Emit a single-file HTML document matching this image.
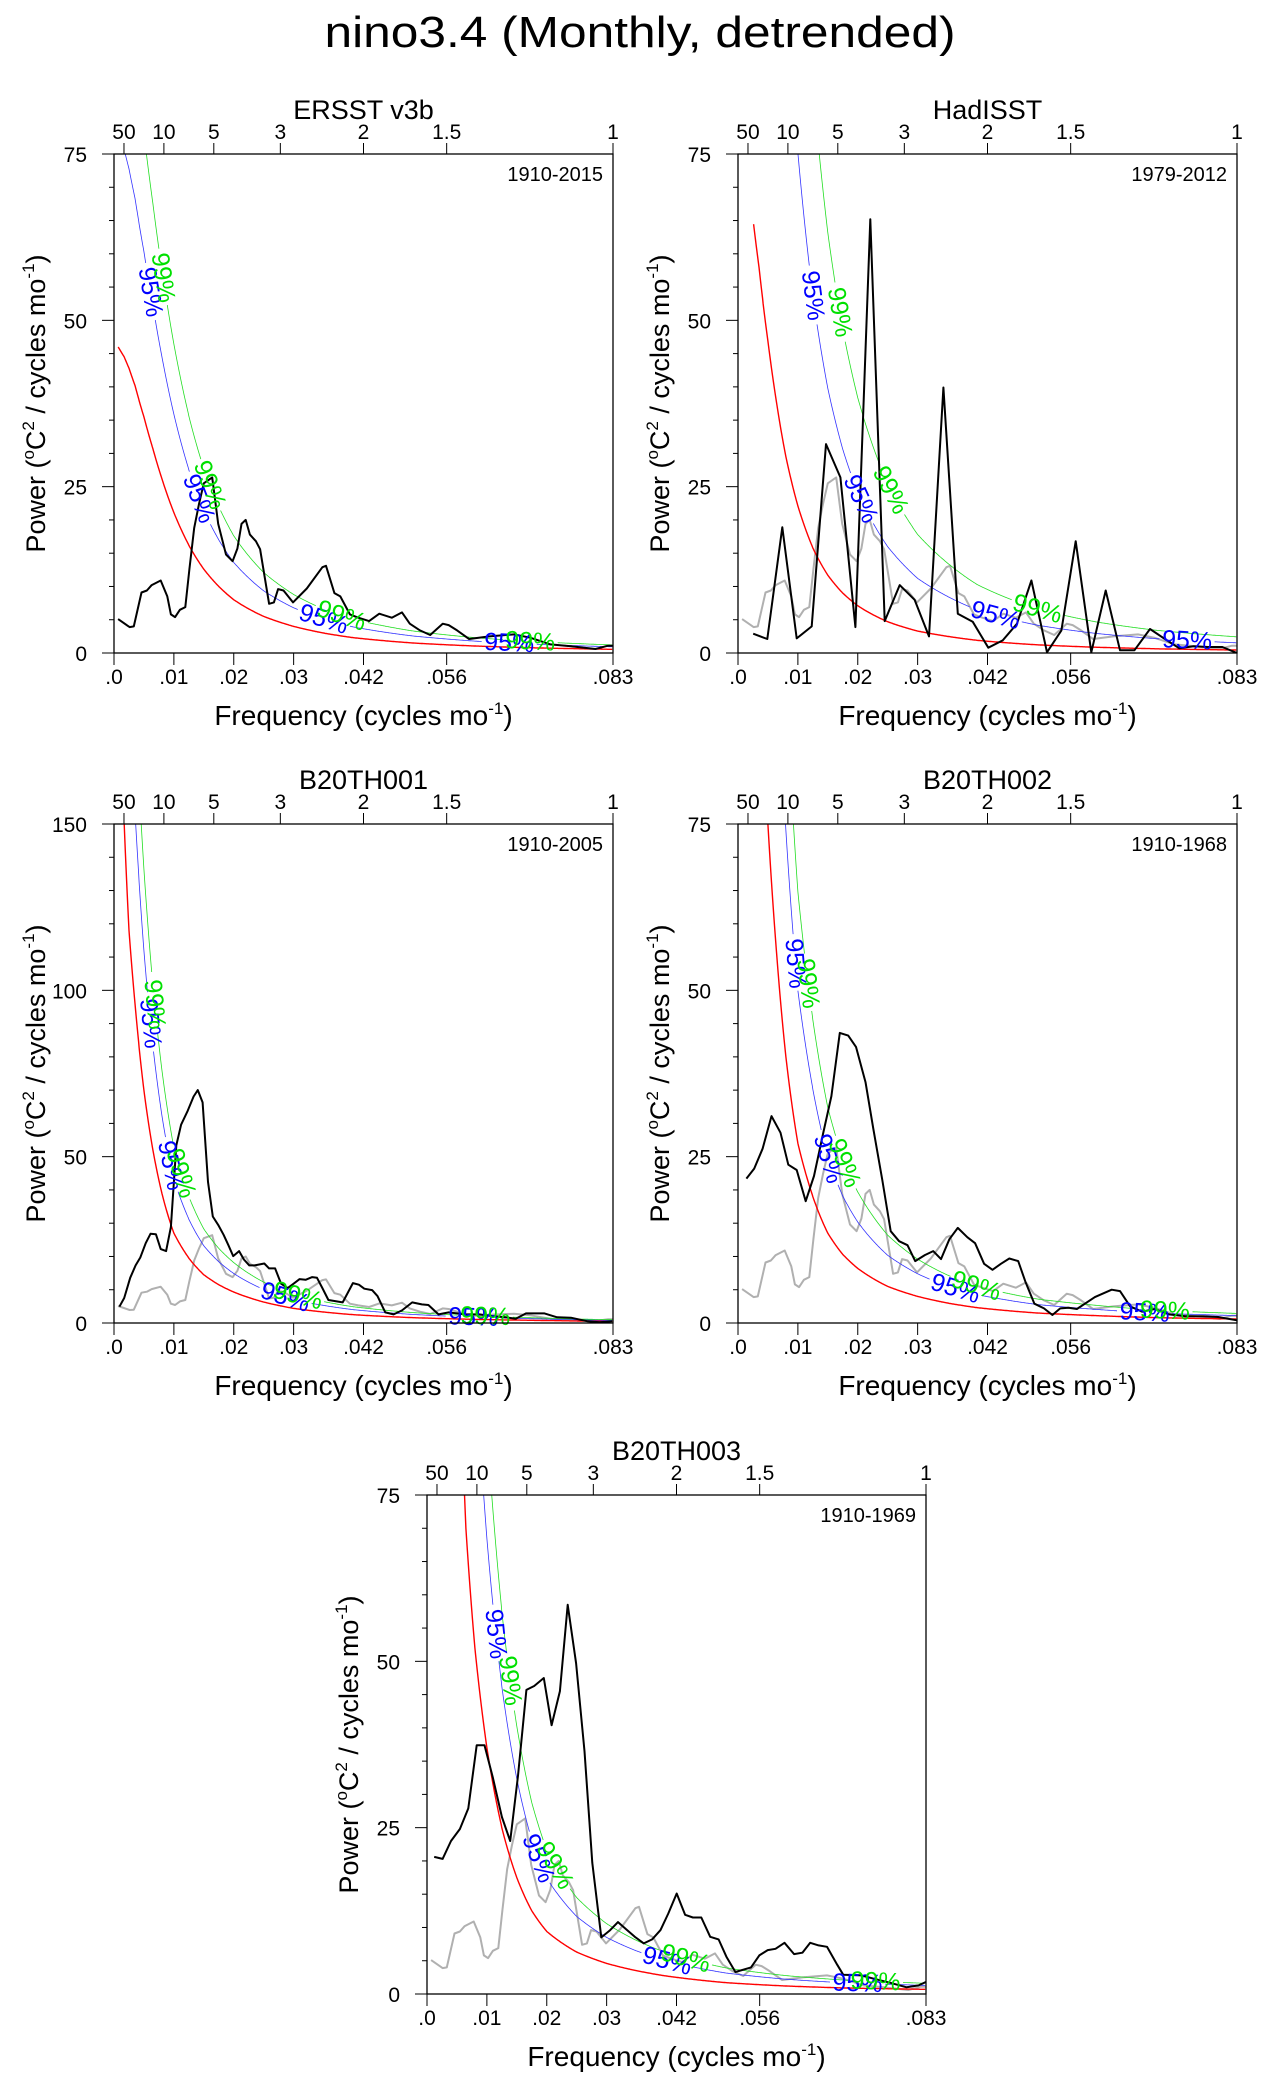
<!DOCTYPE html>
<html><head><meta charset="utf-8"><title>nino3.4 spectra</title>
<style>
html,body{margin:0;padding:0;background:#fff;}
svg{display:block;font-family:"Liberation Sans",Arial,sans-serif;}
</style></head>
<body>
<svg id="fig" width="1264" height="2081" viewBox="0 0 1264 2081" xmlns="http://www.w3.org/2000/svg">
<rect width="1264" height="2081" fill="#fff"/>
<text x="640" y="47" font-size="44" text-anchor="middle" textLength="631" lengthAdjust="spacingAndGlyphs">nino3.4 (Monthly, detrended)</text>
</svg>
<script>
// ---------- data ----------
const panelTitles = ["ERSST v3b","HadISST","B20TH001","B20TH002","B20TH003"];
const panelYears = ["1910-2015","1979-2012","1910-2005","1910-1968","1910-1969"];
const yMaxes = [75,75,150,75,75];
const yMajor = [25,25,50,25,25];
const yMinor = [5,5,10,5,5];
const xTickValues = [0,0.01,0.02,0.03,1/24,1/18,1/12];
const xTickLabels = [".0",".01",".02",".03",".042",".056",".083"];
const periodTicks = [50,10,5,3,2,1.5,1];
const periodLabels = ["50","10","5","3","2","1.5","1"];

// ERSST v3b spectrum (also grey reference in other panels)
const ersstFreq = [.00068,.0026,.0033,.0046,.0055,.0063,.0078,.0089,.0095,.0102,.0110,.0119,.0126,.0134,.0142,.0150,.0164,.0174,.0187,.0198,.0206,.0213,.0220,.0227,.0237,.0244,.0259,.0267,.0274,.0283,.0299,.0322,.0348,.0354,.0368,.0378,.0394,.0408,.0426,.0443,.0464,.0481,.0494,.0511,.0528,.0549,.0559,.0573,.0593,.0627,.0668,.0695,.0729,.0763,.0804,.0825,.0833];
const ersstPower = [5.1,3.9,4.0,9.1,9.4,10.2,10.9,8.5,5.8,5.4,6.5,6.9,12.6,18.8,22.4,25.5,26.4,19.4,14.8,13.8,15.7,19.4,20,17.8,16.8,15.6,7.4,7.6,9.6,9.4,7.6,9.7,12.9,13.1,9.0,8.5,5.8,5.3,4.8,5.9,5.3,6.1,4.4,3.4,2.7,4.4,4.2,3.4,2.1,2.5,2.8,2.3,1.3,1.0,0.6,1.1,1.1];

const hadFreq = [.00254,.0049,.0074,.0098,.0123,.0147,.0171,.0196,.0221,.0245,.0270,.0295,.0319,.0343,.0367,.0392,.0418,.0442,.0466,.0490,.0516,.0540,.0564,.0590,.0614,.0638,.0662,.0688,.0713,.0737,.0761,.0785,.0809,.0833];
const hadPower = [2.9,2.1,18.9,2.2,4.0,31.4,26.4,3.9,65.2,4.8,10.2,8.0,2.5,39.9,5.9,4.7,0.8,1.9,4.4,10.9,0.1,3.4,16.8,0.1,9.4,0.4,0.4,3.6,2.1,0.7,1.0,0.9,0.9,0.0];

const b1Freq = [.0009,.0017,.0027,.0036,.0044,.0053,.0061,.0070,.0078,.0087,.0095,.0104,.0112,.0123,.0133,.0140,.0148,.0157,.0165,.0174,.0183,.0191,.0199,.0209,.0217,.0226,.0235,.0251,.0259,.0269,.0279,.0290,.0300,.0310,.0320,.0331,.0339,.0348,.0358,.0382,.0399,.0409,.0418,.0431,.0440,.0453,.0467,.0481,.0498,.0514,.0525,.0542,.0559,.0586,.0610,.0634,.0654,.0671,.0688,.0719,.0740,.0763,.0791,.0811,.0832];
const b1Power = [4.9,7.5,13.6,17.3,19.7,24,26.8,26.7,22.2,21.6,28.9,53.4,59.6,63.8,68.1,70,66.3,42.4,32,29.5,26.5,23.4,20.1,21.6,19.1,17.3,17.3,17.9,16.4,16.4,11.8,10.5,11.8,13.2,13,13.8,13.6,10.5,6.9,6.2,12,11.5,10.3,9.9,8.1,3.2,2.6,3.8,6.2,5.6,5.4,2.6,3.2,2.6,2.6,2.0,1.7,1.3,2.9,2.9,1.7,1.6,0.5,0.2,0.5];

const b2Freq = [.0014,.0027,.0041,.0056,.0071,.0084,.0098,.0113,.0127,.0142,.0156,.0170,.0184,.0197,.0213,.0226,.0241,.0255,.0269,.0283,.0296,.0312,.0326,.0339,.0353,.0367,.0383,.0396,.0411,.0425,.0439,.0453,.0468,.0480,.0495,.0511,.0525,.0538,.0552,.0566,.0596,.0624,.0638,.0655,.0675,.0696,.0720,.0747,.0775,.0802,.0833];
const b2Power = [21.7,23.2,26.2,31.1,28.6,23.8,23,18.3,22.1,28.4,34.1,43.6,43.2,41.5,36.2,29.2,21.5,13.8,12.3,11.7,9.3,10.2,10.8,9.6,12.6,14.3,12.9,12,8.9,8,8.9,9.7,9.3,6.2,2.9,2.2,1.2,2.2,2.3,2.1,3.9,5.0,4.8,2.5,1.7,2.1,1.3,1.0,1.0,0.9,0.4];

const b3Freq = [.0012,.0026,.0040,.0055,.0069,.0083,.0096,.0110,.0125,.0139,.0152,.0166,.0179,.0195,.0208,.0222,.0235,.0249,.0263,.0276,.0291,.0306,.0319,.0333,.0347,.0362,.0376,.0390,.0403,.0417,.0431,.0444,.0458,.0473,.0487,.0500,.0515,.0541,.0555,.0569,.0582,.0597,.0613,.0627,.0640,.0654,.0668,.0685,.0695,.0725,.0746,.0773,.0801,.0821,.0833];
const b3Power = [20.6,20.3,23,24.8,27.9,37.4,37.4,32.5,26.6,23,32.8,45.7,46.3,47.5,40.4,45.5,58.5,49.7,36.5,19.7,8.5,9.6,10.8,9.7,8.6,7.6,8.2,9.6,12.1,15.1,11.9,11.5,11.5,8.6,8.2,5.6,3.3,4.0,5.8,6.6,6.8,7.7,6.0,6.2,7.7,7.3,7.1,4.4,2.9,2.8,2.3,1.7,1.0,1.3,1.8];

// red-noise (theoretical) spectra sampled on a shared frequency grid
const redFreq = [.0007,.0017,.0025,.0035,.005,.0065,.008,.01,.0125,.015,.0175,.02,.025,.03,.035,.04,.05,.06,.07,.0833];
const red1 = [46,44.5,42.8,40.2,35.5,30.7,26.2,21.1,16.2,12.6,10.0,8.0,5.5,4.0,3.0,2.3,1.5,1.06,0.78,0.55];
const red2 = [null,null,65.2,58,46.9,37.3,29.5,22.1,15.8,11.7,9.0,7.1,4.7,3.3,2.5,1.9,1.23,0.86,0.63,0.45];
const red3 = [250,150,118,96,70,52,39,27,19.5,14.5,11.5,9.3,6.3,4.4,3.3,2.5,1.6,1.1,0.8,0.5];
const red4 = [300,200,150,110,75,55,40,27,19,13.5,10.3,8.2,5.5,4.0,3.0,2.3,1.5,1.1,0.8,0.6];
const red5 = [400,300,220,160,110,70,52,37,25,17.5,12.5,9.4,6.3,4.6,3.5,2.7,1.7,1.2,0.9,0.7];
const sig95Factor = [1.7,3.4,1.6,1.85,1.85];
const sig99Factor = [2.2,5.4,1.95,2.4,2.3];
const label95Freq = [[.0061,.0142,.035,.066],[.0125,.0205,.043,.075],[.0061,.0095,.0286,.060],[.0096,.0151,.0363,.0679],[.0115,.0186,.0401,.0719]];
const label99Freq = [[.0082,.016,.038,.0695],[.017,.0255,.050],[.0068,.0112,.0307,.062],[.0117,.0178,.0398,.0713],[.0139,.0214,.0432,.0749]];

// ---------- layout (not data) ----------
const panelPos = [[114,154],[738,154],[114,824],[738,824],[427,1495]];
const W = 499, H = 499, FMAX = 1/12;
const seriesF = [ersstFreq,hadFreq,b1Freq,b2Freq,b3Freq];
const seriesP = [ersstPower,hadPower,b1Power,b2Power,b3Power];
const redSets = [red1,red2,red3,red4,red5];
const NS = "http://www.w3.org/2000/svg";
const svg = document.getElementById('fig');

function mk(tag, attrs, parent){
  const e = document.createElementNS(NS, tag);
  for (const k in attrs) e.setAttribute(k, attrs[k]);
  (parent||svg).appendChild(e);
  return e;
}

function interpLog(freqs, vals, f){
  for (let i=0;i<freqs.length-1;i++){
    if (f>=freqs[i] && f<=freqs[i+1]){
      if (vals[i]==null || vals[i+1]==null) return null;
      const t=(f-freqs[i])/(freqs[i+1]-freqs[i]);
      return Math.exp(Math.log(vals[i])*(1-t)+Math.log(vals[i+1])*t);
    }
  }
  return null;
}

for (let p=0;p<5;p++){
  const L=panelPos[p][0], T=panelPos[p][1], B=T+H, R=L+W;
  const ymax=yMaxes[p];
  const xs = f => L + f/FMAX*W;
  const ys = v => B - v/ymax*H;
  const g = mk('g',{});
  
  

  const cp = mk('clipPath',{id:'clip'+p},g);
  mk('rect',{x:L,y:T,width:W,height:H},cp);

  // title
  const tt = mk('text',{x:L+W/2,y:T-35,'font-size':27,'text-anchor':'middle'},g);
  tt.textContent = panelTitles[p];
  
  

  // top period axis
  for (let i=0;i<periodTicks.length;i++){
    const x = xs(1/(12*periodTicks[i]));
    const tk = mk('line',{x1:x,x2:x,y1:T,y2:T-11,stroke:'#000','stroke-width':1},g);
    
    
    const tl = mk('text',{x:x,y:T-15,'font-size':21,'text-anchor':'middle'},g);
    tl.textContent = periodLabels[i];
    
    
  }
  // y ticks
  for (let v=0; v<=ymax+1e-9; v+=yMinor[p]){
    const y=ys(v);
    const major = Math.abs(v/yMajor[p]-Math.round(v/yMajor[p]))<1e-6;
    const tk = mk('line',{x1:L,x2:L-(major?12:5),y1:y,y2:y,stroke:'#000','stroke-width':1},g);
    
    
    if (major){
      const tl = mk('text',{x:L-27,y:y+8,'font-size':21,'text-anchor':'end'},g);
      tl.textContent = String(Math.round(v));
      
      
    }
  }
  // x ticks
  for (let i=0;i<xTickValues.length;i++){
    const x=xs(xTickValues[i]);
    const tk = mk('line',{x1:x,x2:x,y1:B,y2:B+12,stroke:'#000','stroke-width':1},g);
    
    
    const tl = mk('text',{x:x,y:B+31,'font-size':21,'text-anchor':'middle'},g);
    tl.textContent = xTickLabels[i];
    
    
  }
  // axis titles
  const xt = mk('text',{x:L+W/2,y:B+72,'font-size':28,'text-anchor':'middle'},g);
  xt.innerHTML = 'Frequency (cycles mo<tspan dy="-11" font-size="17">-1</tspan><tspan dy="11">)</tspan>';
  
  
  const yt = mk('text',{x:0,y:0,'font-size':27,'text-anchor':'middle',transform:'translate('+(L-69)+','+(T+H/2)+') rotate(-90)'},g);
  yt.innerHTML = 'Power (<tspan dy="-11" font-size="17">o</tspan><tspan dy="11">C</tspan><tspan dy="-11" font-size="17">2</tspan><tspan dy="11"> / cycles mo</tspan><tspan dy="-11" font-size="17">-1</tspan><tspan dy="11">)</tspan>';
  
  

  const yr = mk('text',{x:R-10,y:T+27,'font-size':20,'text-anchor':'end'},g);
  yr.textContent = panelYears[p];
  
  

  const plot = mk('g',{'clip-path':'url(#clip'+p+')'},g);

  // grey reference (ERSST) in model/other panels
  if (p>0){
    const pts = ersstFreq.map((f,i)=>xs(f).toFixed(1)+','+ys(ersstPower[i]).toFixed(1)).join(' ');
    const gl = mk('polyline',{points:pts,fill:'none',stroke:'#b0b0b0','stroke-width':2,'stroke-linejoin':'round'},plot);
    
    
  }

  // red noise and significance curves
  const rv = redSets[p];
  const curves = [
    {k:1, color:'#ff0000', w:1.4, name:'red-noise-curve', labels:[], txt:''},
    {k:sig95Factor[p], color:'#3333ff', w:0.8, name:'sig95-curve', labels:label95Freq[p], txt:'95%', tcol:'#0000ff'},
    {k:sig99Factor[p], color:'#22dd22', w:0.8, name:'sig99-curve', labels:label99Freq[p], txt:'99%', tcol:'#00e000'}
  ];
  for (const c of curves){
    const val = f => { const r = interpLog(redFreq, rv, f); return r==null?null:r*c.k; };
    const labPts = c.labels.map(f=>{
      const v=val(f); return [xs(f), ys(v)];
    });
    let d='', pen=false;
    for (let f=redFreq[0]; f<=FMAX+1e-9; f+=0.0001){
      const v = val(Math.min(f,FMAX));
      if (v==null){pen=false;continue;}
      const x=xs(Math.min(f,FMAX)), y=Math.max(ys(v), T-200);
      let gap=false;
      for (const lp of labPts){ if (Math.hypot(x-lp[0],y-lp[1])<27) gap=true; }
      if (gap){pen=false;continue;}
      d += (pen?'L':'M')+x.toFixed(1)+','+y.toFixed(1);
      pen=true;
    }
    const path = mk('path',{d:d,fill:'none',stroke:c.color,'stroke-width':c.w},plot);
    
    
    for (let i=0;i<c.labels.length;i++){
      const f=c.labels[i];
      const v1=val(f-0.0006), v2=val(f+0.0006);
      const ang = Math.atan2(ys(v2)-ys(v1), xs(f+0.0006)-xs(f-0.0006))*180/Math.PI;
      const lt = mk('text',{x:0,y:0,'font-size':25,'text-anchor':'middle','dominant-baseline':'central',fill:c.tcol,
        transform:'translate('+labPts[i][0].toFixed(1)+','+labPts[i][1].toFixed(1)+') rotate('+ang.toFixed(1)+')'},g);
      lt.textContent = c.txt;
      
      
    }
  }

  // main spectrum
  const sf=seriesF[p], sp=seriesP[p];
  const pts = sf.map((f,i)=>xs(f).toFixed(1)+','+ys(sp[i]).toFixed(1)).join(' ');
  const bl = mk('polyline',{points:pts,fill:'none',stroke:'#000','stroke-width':2,'stroke-linejoin':'round'},plot);
  
  

  // frame
  const fr = mk('rect',{x:L,y:T,width:W,height:H,fill:'none',stroke:'#000','stroke-width':1.3},g);
  
  
}
</script>
</body></html>
